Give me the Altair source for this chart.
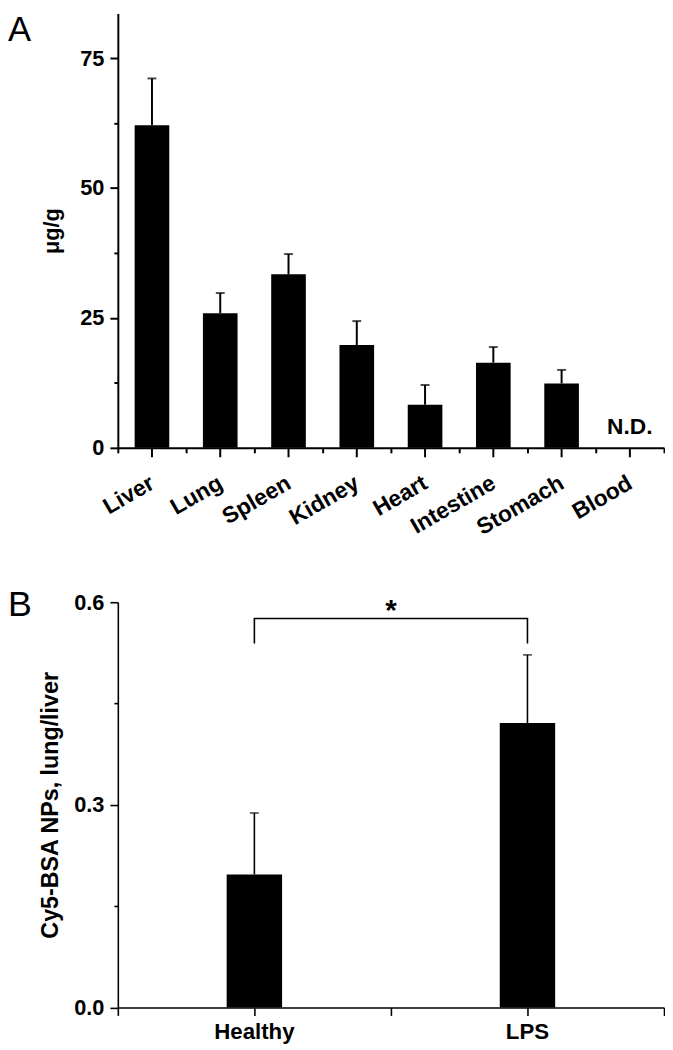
import altair as alt
import pandas as pd

# ---------------- Panel A data ----------------
organs = ["Liver", "Lung", "Spleen", "Kidney", "Heart", "Intestine", "Stomach", "Blood"]
uptake_mean = [62.1, 25.9, 33.4, 19.8, 8.3, 16.4, 12.4, None]
uptake_upper = [71.1, 29.8, 37.3, 24.4, 12.1, 19.4, 15.0, None]
nd_organ = ["Blood"]
nd_label = ["N.D."]
a_major_ticks = [0, 25, 50, 75]
a_minor_ticks = [12.5, 37.5, 62.5]

# ---------------- Panel B data ----------------
groups = ["Healthy", "LPS"]
ratio_mean = [0.197, 0.421]
ratio_upper = [0.288, 0.522]
bracket_x = ["Healthy", "Healthy", "LPS", "LPS"]
bracket_y = [0.539, 0.576, 0.576, 0.539]
star_group = ["Healthy"]
star_y = [0.574]
b_major_ticks = [0.0, 0.3, 0.6]
b_minor_ticks = [0.15, 0.45]

FONT = "Liberation Sans"

dfA = pd.DataFrame({"organ": organs, "mean": uptake_mean, "upper": uptake_upper})
dfA_bars = dfA.dropna()
dfND = pd.DataFrame({"organ": nd_organ, "label": nd_label, "y": [2.7]})

dfB = pd.DataFrame({"group": groups, "mean": ratio_mean, "upper": ratio_upper})
dfBr = pd.DataFrame({"group": bracket_x, "y": bracket_y, "order": list(range(len(bracket_x)))})
dfStar = pd.DataFrame({"group": star_group, "y": star_y, "t": ["*"]})


def axis_common(width):
    return dict(domainColor="black", tickColor="black", domainWidth=width, tickWidth=width,
                labelFont=FONT, labelFontWeight="bold", labelColor="black",
                titleFont=FONT, titleFontWeight="bold", titleColor="black", grid=False)


# ---------------- Panel A ----------------
xsA = alt.Scale(domain=organs, paddingInner=0, paddingOuter=0)
ysA = alt.Scale(domain=[0, 83.6], nice=False, zero=True)

xA_main = alt.X("organ:N", scale=xsA, sort=organs, title=None,
                axis=alt.Axis(orient="bottom", labelAngle=-30, tickSize=9, labelFontSize=23,
                              labelPadding=15, labelAlign="right", labelBaseline="top",
                              labelOffset=-5, **axis_common(2)))
xA_minor = alt.X("organ:N", scale=xsA, sort=organs, title=None,
                 axis=alt.Axis(orient="bottom", labels=False, tickBand="extent", tickSize=5,
                               domain=False, tickColor="black", tickWidth=2, grid=False))
yA_main = alt.Y("mean:Q", scale=ysA, title="μg/g",
                axis=alt.Axis(orient="left", values=a_major_ticks, tickSize=8, labelFontSize=22,
                              labelPadding=6, titleFontSize=22, titlePadding=16,
                              **axis_common(2)))

bars_A = alt.Chart(dfA_bars).mark_bar(size=35, color="black").encode(x=xA_main, y=yA_main)

err_A = alt.Chart(dfA_bars).mark_rule(color="black", strokeWidth=2).encode(
    x=xA_minor,
    y=alt.Y("mean:Q", scale=ysA, title=None,
            axis=alt.Axis(orient="left", values=a_minor_ticks, labels=False, tickSize=4,
                          domain=False, tickColor="black", tickWidth=2, grid=False, title=None)),
    y2="upper:Q",
)
cap_A = alt.Chart(dfA_bars).mark_tick(color="black", size=9, thickness=2).encode(
    x=alt.X("organ:N", scale=xsA, sort=organs, axis=None),
    y=alt.Y("upper:Q", scale=ysA, axis=None),
)
nd_A = alt.Chart(dfND).mark_text(font=FONT, fontWeight="bold", fontSize=23, color="black",
                                 baseline="alphabetic").encode(
    x=alt.X("organ:N", scale=xsA, sort=organs, axis=None),
    y=alt.Y("y:Q", scale=ysA, axis=None),
    text="label:N",
)
letter_A = alt.Chart(pd.DataFrame({"t": ["A"]})).mark_text(
    font=FONT, fontSize=35, color="black", align="left", baseline="top"
).encode(x=alt.value(-111), y=alt.value(0), text="t:N")

panelA = alt.layer(bars_A, err_A, cap_A, nd_A, letter_A).resolve_axis(
    x="independent", y="independent"
).properties(width=552, height=439)

# ---------------- Panel B ----------------
xsB = alt.Scale(domain=groups, paddingInner=0, paddingOuter=0)
ysB = alt.Scale(domain=[0, 0.6], nice=False, zero=True)

xB_main = alt.X("group:N", scale=xsB, sort=groups, title=None,
                axis=alt.Axis(orient="bottom", labelAngle=0, tickSize=8, labelFontSize=22.5,
                              labelPadding=5, **axis_common(1.6)))
xB_minor = alt.X("group:N", scale=xsB, sort=groups, title=None,
                 axis=alt.Axis(orient="bottom", labels=False, tickBand="extent", tickSize=8,
                               domain=False, tickColor="black", tickWidth=1.6, grid=False))
yB_main = alt.Y("mean:Q", scale=ysB, title="Cy5-BSA NPs, lung/liver",
                axis=alt.Axis(orient="left", values=b_major_ticks, format=".1f", tickSize=8,
                              labelFontSize=22, labelPadding=6, titleFontSize=23.5,
                              titlePadding=11, **axis_common(1.6)))

bars_B = alt.Chart(dfB).mark_bar(size=56, color="black").encode(x=xB_main, y=yB_main)
err_B = alt.Chart(dfB).mark_rule(color="black", strokeWidth=1.6).encode(
    x=xB_minor,
    y=alt.Y("mean:Q", scale=ysB, title=None,
            axis=alt.Axis(orient="left", values=b_minor_ticks, labels=False, tickSize=4,
                          domain=False, tickColor="black", tickWidth=1.6, grid=False, title=None)),
    y2="upper:Q",
)
cap_B = alt.Chart(dfB).mark_tick(color="black", size=9, thickness=1.6).encode(
    x=alt.X("group:N", scale=xsB, sort=groups, axis=None),
    y=alt.Y("upper:Q", scale=ysB, axis=None),
)
bracket_B = alt.Chart(dfBr).mark_line(color="black", strokeWidth=1.6).encode(
    x=alt.X("group:N", scale=xsB, sort=groups, axis=None),
    y=alt.Y("y:Q", scale=ysB, axis=None),
    order="order:Q",
)
star_B = alt.Chart(dfStar).mark_text(font=FONT, fontWeight="bold", fontSize=30, color="black",
                                     baseline="alphabetic").encode(
    x=alt.X("group:N", scale=xsB, sort=groups, axis=None, bandPosition=1),
    y=alt.Y("y:Q", scale=ysB, axis=None),
    text="t:N",
)
letter_B = alt.Chart(pd.DataFrame({"t": ["B"]})).mark_text(
    font=FONT, fontSize=36, color="black", align="left", baseline="top"
).encode(x=alt.value(-111), y=alt.value(-14), text="t:N")

panelB = alt.layer(bars_B, err_B, cap_B, bracket_B, star_B, letter_B).resolve_axis(
    x="independent", y="independent"
).properties(width=552, height=409.6)

chart = alt.vconcat(panelA, panelB, spacing=156, bounds="flush").properties(
    padding=0
).configure(background="white").configure_view(stroke=None)

chart.save("out.html", embed_options={"renderer": "svg", "actions": False})
